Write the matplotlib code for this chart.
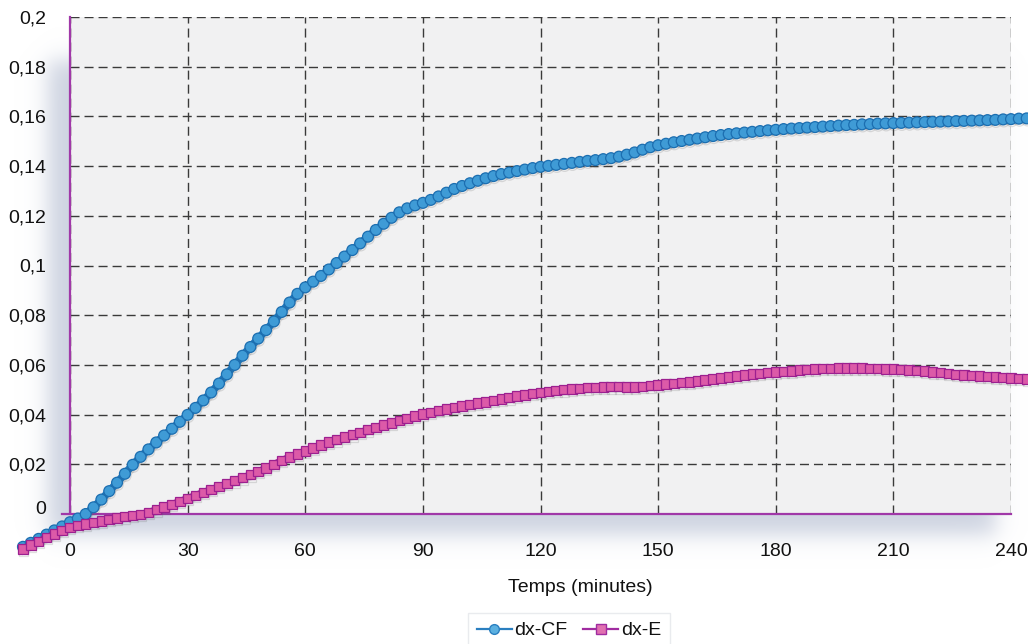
import numpy as np
import matplotlib
matplotlib.use("Agg")
import matplotlib.pyplot as plt
import matplotlib.patheffects as pe
import matplotlib.transforms as mtransforms
from matplotlib.lines import Line2D

plt.rcParams['font.family'] = ['Liberation Sans', 'DejaVu Sans']

# ---------------- data ----------------
time_min = list(range(-12, 245, 2))

dx_cf = [
    -0.0132, -0.0116, -0.0100, -0.0083, -0.0066, -0.0050, -0.0033, -0.0018, 0.0000, 0.0027,
    0.0058, 0.0092, 0.0126, 0.0162, 0.0198, 0.0230, 0.0260, 0.0288, 0.0316, 0.0343,
    0.0371, 0.0399, 0.0427, 0.0457, 0.0489, 0.0525, 0.0562, 0.0600, 0.0637, 0.0672,
    0.0706, 0.0740, 0.0775, 0.0813, 0.0851, 0.0886, 0.0912, 0.0935, 0.0958, 0.0984,
    0.1010, 0.1036, 0.1062, 0.1089, 0.1116, 0.1143, 0.1168, 0.1192, 0.1214, 0.1230,
    0.1242, 0.1252, 0.1264, 0.1278, 0.1293, 0.1308, 0.1320, 0.1331, 0.1341, 0.1351,
    0.1360, 0.1368, 0.1374, 0.1380, 0.1386, 0.1392, 0.1397, 0.1401, 0.1405, 0.1409,
    0.1413, 0.1417, 0.1421, 0.1424, 0.1428, 0.1432, 0.1438, 0.1446, 0.1455, 0.1466,
    0.1476, 0.1484, 0.1490, 0.1496, 0.1501, 0.1506, 0.1511, 0.1516, 0.1521, 0.1525,
    0.1529, 0.1532, 0.1535, 0.1538, 0.1541, 0.1544, 0.1546, 0.1549, 0.1551, 0.1553,
    0.1555, 0.1557, 0.1559, 0.1561, 0.1563, 0.1565, 0.1566, 0.1568, 0.1569, 0.1571,
    0.1572, 0.1573, 0.1574, 0.1575, 0.1576, 0.1577, 0.1578, 0.1579, 0.1580, 0.1581,
    0.1582, 0.1583, 0.1584, 0.1585, 0.1586, 0.1588, 0.1589, 0.1591, 0.1592,
]

dx_e = [
    -0.0140, -0.0125, -0.0110, -0.0095, -0.0081, -0.0067, -0.0054, -0.0046, -0.0040, -0.0034,
    -0.0028, -0.0022, -0.0016, -0.0011, -0.0006, -0.0001, 0.0007, 0.0017, 0.0028, 0.0039,
    0.0051, 0.0063, 0.0075, 0.0087, 0.0099, 0.0110, 0.0122, 0.0134, 0.0146, 0.0158,
    0.0171, 0.0185, 0.0200, 0.0215, 0.0230, 0.0242, 0.0254, 0.0266, 0.0278, 0.0289,
    0.0299, 0.0309, 0.0319, 0.0329, 0.0339, 0.0349, 0.0358, 0.0367, 0.0376, 0.0385,
    0.0394, 0.0402, 0.0409, 0.0416, 0.0422, 0.0428, 0.0434, 0.0440, 0.0446, 0.0451,
    0.0457, 0.0463, 0.0468, 0.0474, 0.0479, 0.0485, 0.0490, 0.0494, 0.0497, 0.0500,
    0.0503, 0.0506, 0.0508, 0.0510, 0.0511, 0.0512, 0.0512, 0.0511, 0.0511, 0.0513,
    0.0516, 0.0520, 0.0523, 0.0526, 0.0529, 0.0532, 0.0536, 0.0540, 0.0544, 0.0548,
    0.0552, 0.0556, 0.0560, 0.0563, 0.0566, 0.0569, 0.0571, 0.0574, 0.0576, 0.0579,
    0.0581, 0.0583, 0.0585, 0.0586, 0.0587, 0.0587, 0.0587, 0.0587, 0.0586, 0.0585,
    0.0584, 0.0583, 0.0581, 0.0579, 0.0577, 0.0575, 0.0572, 0.0569, 0.0566, 0.0562,
    0.0559, 0.0557, 0.0555, 0.0553, 0.0551, 0.0549, 0.0547, 0.0545, 0.0543,
]

x_ticks = [0, 30, 60, 90, 120, 150, 180, 210, 240]
y_ticks = [0, 0.02, 0.04, 0.06, 0.08, 0.1, 0.12, 0.14, 0.16, 0.18, 0.2]
y_tick_labels = ["0", "0,02", "0,04", "0,06", "0,08", "0,1", "0,12", "0,14",
                 "0,16", "0,18", "0,2"]
series_names = ["dx-CF", "dx-E"]
x_label = "Temps (minutes)"

# ---------------- figure ----------------
W, H = 1028, 644
fig = plt.figure(figsize=(W / 100, H / 100), dpi=100)
fig.patch.set_facecolor("white")

# soft shadow behind plot area
bg = fig.add_axes([0, 0, 1, 1], zorder=-5)
bg.set_axis_off()
xx = np.arange(W)[None, :]
yy = np.arange(H)[:, None]
x0, x1, y0, y1, w = 48, 995, 60, 534, 13.0
ax_ = 0.5 * (1 + np.tanh((xx - x0) / w)) * 0.5 * (1 - np.tanh((xx - x1) / w))
ay_ = 0.5 * (1 + np.tanh((yy - y0) / w)) * 0.5 * (1 - np.tanh((yy - y1) / w))
alpha = 0.85 * ax_ * ay_
img = np.ones((H, W, 4))
img[..., 0] = 0.77
img[..., 1] = 0.80
img[..., 2] = 0.86
img[..., 3] = alpha
bg.imshow(img, extent=[0, 1, 0, 1], aspect="auto", origin="upper")
bg.set_xlim(0, 1)
bg.set_ylim(0, 1)

left, right, top, bottom = 70, 1011, 17, 514
ax = fig.add_axes([left / W, 1 - bottom / H, (right - left) / W, (bottom - top) / H])
ax.set_facecolor("#f1f1f2")
ax.set_xlim(0, 240)
ax.set_ylim(0, 0.2)

ax.set_xticks(x_ticks)
ax.set_xticklabels([str(t) for t in x_ticks])
ax.set_yticks(y_ticks)
ax.set_yticklabels(y_tick_labels)
ax.tick_params(axis="both", length=0, labelsize=14, colors="#111111")
ax.tick_params(axis="x", pad=21)
ax.tick_params(axis="y", pad=17)
# the "0" label sits slightly above its gridline in the reference
zero_lbl = ax.get_yticklabels()[0]
zero_lbl.set_transform(zero_lbl.get_transform() +
                       mtransforms.ScaledTranslation(0, 7 / 100, fig.dpi_scale_trans))

ax.grid(True, color="#3a3a3a", linewidth=1.0, linestyle=(0, (6.5, 3.6)), zorder=1)
ax.set_axisbelow(True)

purple = "#a038a8"
for s in ["top", "right"]:
    ax.spines[s].set_visible(False)
ax.spines["left"].set_color(purple)
ax.spines["bottom"].set_color(purple)
ax.spines["left"].set_linewidth(1.6)
ax.spines["bottom"].set_linewidth(1.6)
ax.spines["bottom"].set_bounds(-2, 240)
ax.spines["left"].set_zorder(2)
ax.spines["bottom"].set_zorder(2)

shadow = [pe.SimpleLineShadow(offset=(0.5, -1.5), shadow_color="#555555", alpha=0.18), pe.Normal()]

ax.plot(time_min, dx_cf, color="#1f78bd", linewidth=5.5, marker="o", markersize=7.8,
        markerfacecolor="#3f9bd6", markeredgecolor="#1c6eb0", markeredgewidth=0.9,
        clip_on=False, zorder=3, label=series_names[0], path_effects=shadow)
ax.plot(time_min, dx_e, color="#a4228f", linewidth=5.0, marker="s", markersize=6.8,
        markerfacecolor="#dc5aa8", markeredgecolor="#9c2090", markeredgewidth=0.9,
        clip_on=False, zorder=4, label=series_names[1], path_effects=shadow)

fig.text(580 / W, 1 - 588 / H, x_label, ha="center", va="center", fontsize=14, color="#111111")

handles = [
    Line2D([], [], color="#2a7fc0", linewidth=1.6, marker="o", markersize=7,
           markerfacecolor="#5bb0e0", markeredgecolor="#2a7fc0"),
    Line2D([], [], color="#a02ca0", linewidth=1.6, marker="s", markersize=7,
           markerfacecolor="#e070b0", markeredgecolor="#a02ca0"),
]
leg = fig.legend(handles, series_names, loc="upper center",
                 bbox_to_anchor=(569 / W, 1 - 613 / H), ncol=2, fontsize=14,
                 frameon=True, fancybox=False, handlelength=1.8, handletextpad=0.15,
                 columnspacing=0.8, borderpad=0.45, borderaxespad=0)
leg.get_frame().set_facecolor("white")
leg.get_frame().set_edgecolor("#e4e6ea")
leg.get_frame().set_linewidth(1.0)
for t in leg.get_texts():
    t.set_color("#111111")

fig.savefig("out.png", dpi=100, facecolor="white")
